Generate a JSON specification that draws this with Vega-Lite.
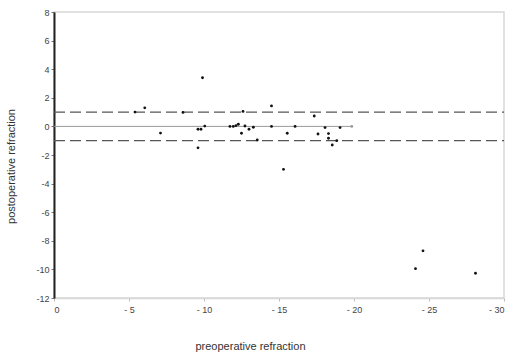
{
  "$schema": "https://vega.github.io/schema/vega-lite/v6.json",
  "autosize": "none",
  "width": 450,
  "height": 286,
  "padding": {"left": 54, "top": 12, "right": 3, "bottom": 57},
  "background": "white",
  "config": {
    "view": {"stroke": "#d8d8d8", "strokeWidth": 1.5},
    "font": "Liberation Sans"
  },
  "datasets": {
    "pts": [
      {"pre": -5.4, "post": 1.0, "grp": "a"},
      {"pre": -6.05, "post": 1.3, "grp": "a"},
      {"pre": -7.1, "post": -0.47, "grp": "a"},
      {"pre": -8.6, "post": 0.98, "grp": "a"},
      {"pre": -9.6, "post": -0.2, "grp": "a"},
      {"pre": -9.8, "post": -0.2, "grp": "a"},
      {"pre": -10.05, "post": 0.02, "grp": "a"},
      {"pre": -9.6, "post": -1.5, "grp": "a"},
      {"pre": -9.9, "post": 3.4, "grp": "a"},
      {"pre": -11.73, "post": 0.0, "grp": "a"},
      {"pre": -11.95, "post": 0.0, "grp": "a"},
      {"pre": -12.13, "post": 0.05, "grp": "a"},
      {"pre": -12.29, "post": 0.15, "grp": "a"},
      {"pre": -12.5, "post": -0.48, "grp": "a"},
      {"pre": -12.73, "post": 0.03, "grp": "a"},
      {"pre": -12.6, "post": 1.05, "grp": "a"},
      {"pre": -13.0, "post": -0.2, "grp": "a"},
      {"pre": -13.29, "post": -0.06, "grp": "a"},
      {"pre": -13.55, "post": -0.95, "grp": "a"},
      {"pre": -14.5, "post": 1.43, "grp": "a"},
      {"pre": -14.5, "post": 0.0, "grp": "a"},
      {"pre": -15.3, "post": -3.0, "grp": "a"},
      {"pre": -15.55, "post": -0.48, "grp": "a"},
      {"pre": -16.07, "post": 0.0, "grp": "a"},
      {"pre": -17.35, "post": 0.73, "grp": "a"},
      {"pre": -17.6, "post": -0.53, "grp": "a"},
      {"pre": -18.07, "post": -0.08, "grp": "a"},
      {"pre": -18.3, "post": -0.5, "grp": "a"},
      {"pre": -18.3, "post": -0.83, "grp": "a"},
      {"pre": -18.55, "post": -1.3, "grp": "a"},
      {"pre": -18.85, "post": -1.0, "grp": "a"},
      {"pre": -19.07, "post": -0.08, "grp": "a"},
      {"pre": -19.85, "post": 0.0, "grp": "b"},
      {"pre": -24.1, "post": -9.95, "grp": "a"},
      {"pre": -24.6, "post": -8.7, "grp": "a"},
      {"pre": -28.1, "post": -10.27, "grp": "a"}
    ],
    "limits": [
      {"from": 0, "to": -30, "y": 1},
      {"from": 0, "to": -30, "y": -1}
    ],
    "zero": [
      {"from": 0, "to": -19.9, "y": 0}
    ]
  },
  "layer": [
    {
      "data": {"name": "zero"},
      "mark": {"type": "rule", "color": "#9a9a9a", "strokeWidth": 1},
      "encoding": {
        "x": {"field": "from", "type": "quantitative", "scale": {"domain": [-30, 0], "reverse": true, "nice": false},
          "axis": {
            "values": [0, -5, -10, -15, -20, -25, -30],
            "tickCount": 20,
            "labelExpr": "datum.value == 0 ? '0' : '- ' + abs(datum.value)",
            "labelOverlap": false,
            "grid": false,
            "domainColor": "#d8d8d8",
            "domainWidth": 1.5,
            "tickColor": "#bbbbbb",
            "tickSize": 3,
            "labelFontSize": 9,
            "labelColor": "#444444",
            "labelPadding": 4,
            "title": "preoperative refraction",
            "titleFontSize": 11,
            "titleFontWeight": "normal",
            "titleColor": "#333333",
            "titleAnchor": null,
            "titleAlign": "center",
            "titleBaseline": "alphabetic",
            "titleX": 196,
            "titleY": 51
          }
        },
        "x2": {"field": "to"},
        "y": {"field": "y", "type": "quantitative", "scale": {"domain": [-12, 8], "nice": false},
          "axis": {
            "values": [8, 6, 4, 2, 0, -2, -4, -6, -8, -10, -12],
            "tickCount": 20,
            "labelExpr": "datum.value < 0 ? '-' + abs(datum.value) : '' + datum.value",
            "labelOverlap": false,
            "grid": false,
            "domainColor": "#222222",
            "domainWidth": 2,
            "tickColor": "#777777",
            "tickSize": 3,
            "labelFontSize": 9,
            "labelColor": "#444444",
            "labelPadding": 2,
            "title": "postoperative refraction",
            "titleFontSize": 11,
            "titleFontWeight": "normal",
            "titleColor": "#333333",
            "titleAnchor": null,
            "titleAlign": "center",
            "titleBaseline": "alphabetic",
            "titleAngle": -90,
            "titleX": -40,
            "titleY": 154
          }
        }
      }
    },
    {
      "data": {"name": "limits"},
      "mark": {"type": "rule", "color": "#555555", "strokeWidth": 1.3, "strokeDash": [11, 5]},
      "encoding": {
        "x": {"field": "from", "type": "quantitative"},
        "x2": {"field": "to"},
        "y": {"field": "y", "type": "quantitative"}
      }
    },
    {
      "data": {"name": "pts"},
      "mark": {"type": "point", "filled": true, "shape": "circle", "size": 8, "opacity": 1},
      "encoding": {
        "x": {"field": "pre", "type": "quantitative"},
        "y": {"field": "post", "type": "quantitative"},
        "color": {"field": "grp", "type": "nominal", "scale": {"domain": ["a", "b"], "range": ["#111111", "#999999"]}, "legend": null}
      }
    }
  ]
}
